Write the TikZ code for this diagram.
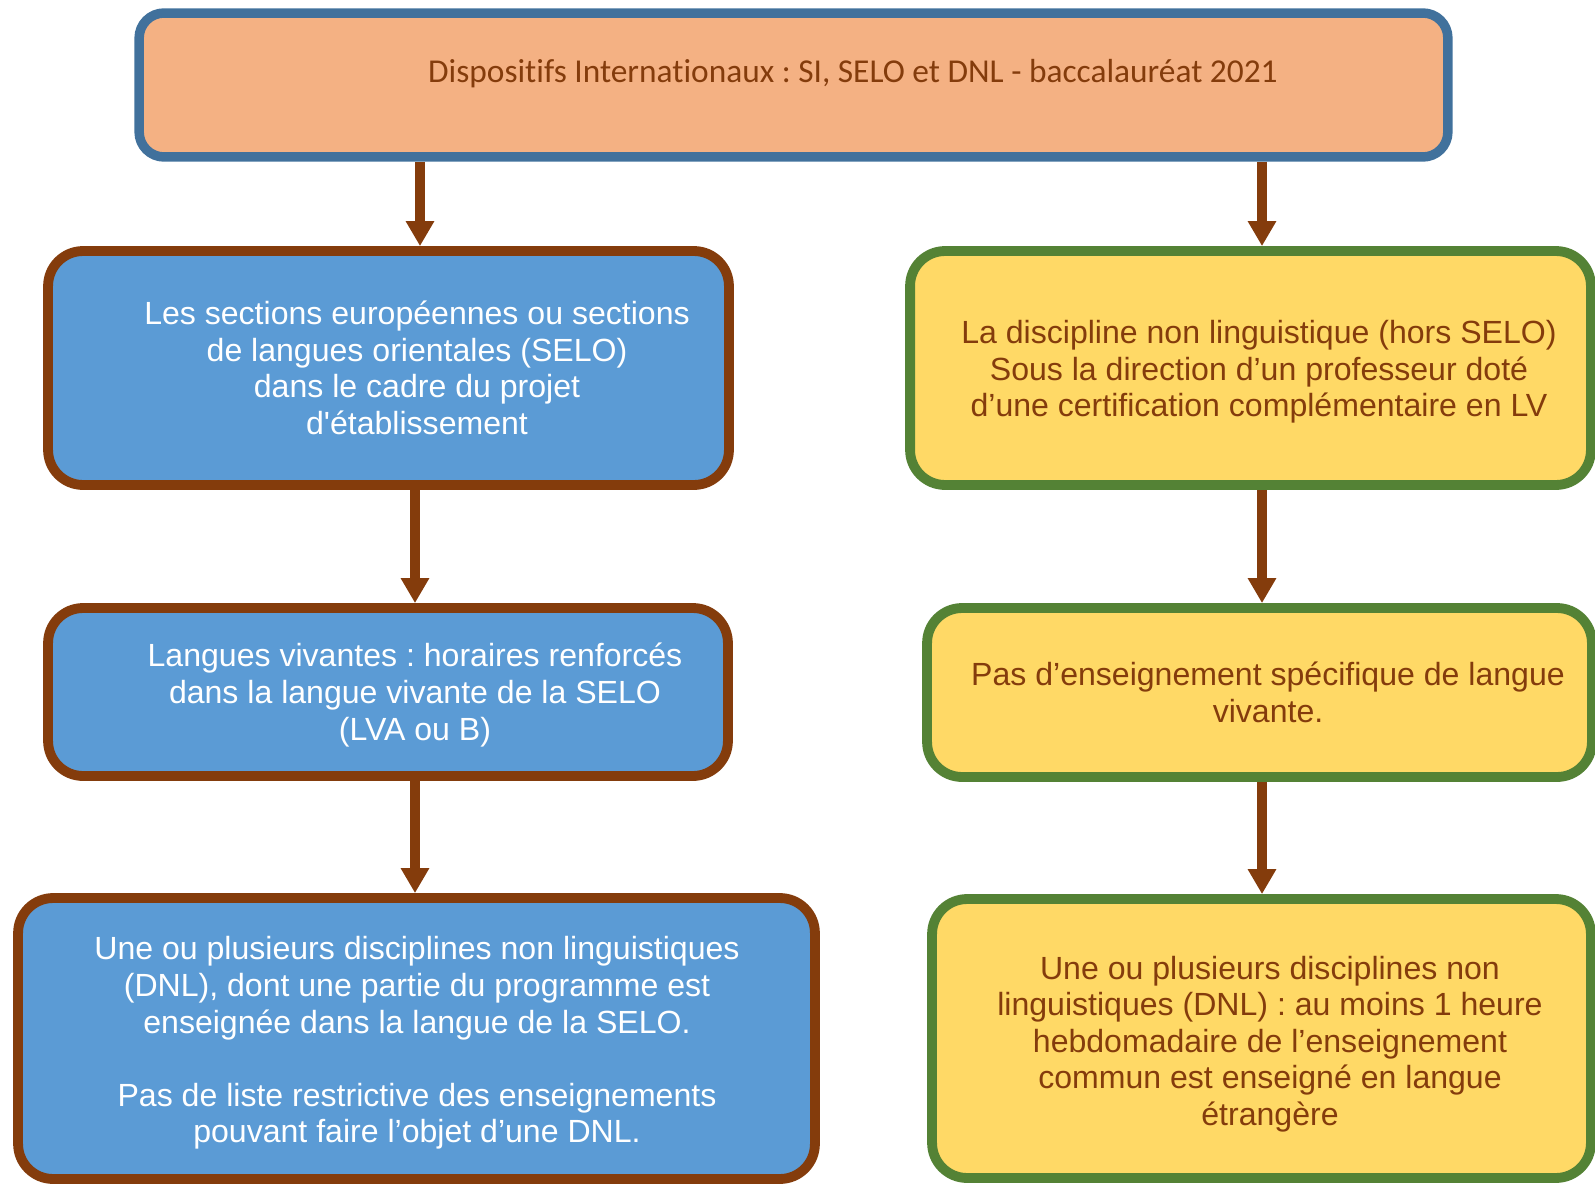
\documentclass[tikz,border=0pt]{standalone}
\usepackage{fontspec}
\setmainfont{Liberation Sans}
\newfontfamily\calibri[Ligatures=NoCommon]{Carlito}
\usetikzlibrary{arrows.meta,backgrounds}
\definecolor{peach}{HTML}{F4B183}
\definecolor{steel}{HTML}{41719C}
\definecolor{rust}{HTML}{843C0C}
\definecolor{sky}{HTML}{5B9BD5}
\definecolor{straw}{HTML}{FFD966}
\definecolor{moss}{HTML}{548235}
\frenchspacing

\begin{document}
\begin{tikzpicture}[x=0.02cm,y=-0.02cm,
    titlebox/.style={draw=steel,line width=5.4pt,fill=peach,rounded corners=0.5cm},
    bluebox/.style={draw=rust,line width=5.6pt,fill=sky,rounded corners=0.7cm},
    yellowbox/.style={draw=moss,line width=5.6pt,fill=straw,rounded corners=0.7cm},
    wtext/.style={text=white,align=center,inner sep=0pt,font=\fontsize{18.25pt}{20.8pt}\selectfont},
    btext/.style={text=rust,align=center,inner sep=0pt,font=\fontsize{18.25pt}{20.8pt}\selectfont},
    flow/.style={draw=rust,line width=5.6pt,-{Triangle[width=15.3pt,length=14.2pt]}}]
     \useasboundingbox (0,0) rectangle (1595,1183);
     \clip (0,0) rectangle (1595,1183);
     \coordinate (topL) at (420,0);
     \coordinate (colL) at (415,0);
     \coordinate (colR) at (1262,0);

     \node[titlebox,minimum width=26.18cm,minimum height=2.88cm] (title) at (793.5,85) {};
     \node[text=rust,inner sep=0pt,font=\calibri\fontsize{19pt}{22pt}\selectfont] (titletxt) at (853,74)
          {Dispositifs Internationaux : SI, SELO et DNL - baccalauréat 2021};

     \node[bluebox,minimum width=13.62cm,minimum height=4.68cm] (selo) at (388.5,368) {};
     \node[wtext] (selotxt) at (417,368) {Les sections européennes ou sections\\
          de langues orientales (SELO)\\ dans le cadre du projet\\ d\textquotesingle établissement};

     \node[bluebox,minimum width=13.6cm,minimum height=3.36cm] (lvselo) at (388,692) {};
     \node[wtext] (lvselotxt) at (415,695) {Langues vivantes : horaires renforcés\\
          dans la langue vivante de la SELO\\ (LVA ou B)};

     \node[bluebox,minimum width=15.94cm,minimum height=5.62cm] (dnlselo) at (416.5,1038.5) {};
     \node[wtext] (dnlselotxt) at (417,1043) {Une ou plusieurs disciplines non linguistiques\\
          (DNL), dont une partie du programme est\\ enseignée dans la langue de la SELO.\\[20.8pt]
          Pas de liste restrictive des enseignements\\ pouvant faire l’objet d’une DNL.};

     \node[yellowbox,minimum width=13.62cm,minimum height=4.68cm] (hors) at (1250.5,368) {};
     \node[btext] (horstxt) at (1259,372) {La discipline non linguistique (hors SELO)\\
          Sous la direction d’un professeur doté\\ d’une certification complémentaire en LV};

     \node[yellowbox,minimum width=13.3cm,minimum height=3.38cm] (lvhors) at (1259.5,692.5) {};
     \node[btext] (lvhorstxt) at (1268,692.5) {Pas d’enseignement spécifique de langue\\ vivante.};

     \node[yellowbox,minimum width=13.18cm,minimum height=5.58cm] (dnlhors) at (1261.5,1038.5) {};
     \node[btext] (dnlhorstxt) at (1270,1044) {Une ou plusieurs disciplines non\\
          linguistiques (DNL) : au moins 1 heure\\ hebdomadaire de l’enseignement\\
          commun est enseigné en langue\\ étrangère};

     \begin{scope}[on background layer]
     \draw[flow] (title.south -| topL) -- (selo.north -| topL);
     \draw[flow] (selo.south -| colL) -- (lvselo.north -| colL);
     \draw[flow] (lvselo.south -| colL) -- (dnlselo.north -| colL);
     \draw[flow] (title.south -| colR) -- (hors.north -| colR);
     \draw[flow] (hors.south -| colR) -- (lvhors.north -| colR);
     \draw[flow] (lvhors.south -| colR) -- (dnlhors.north -| colR);
     \end{scope}
\end{tikzpicture}
\end{document}
